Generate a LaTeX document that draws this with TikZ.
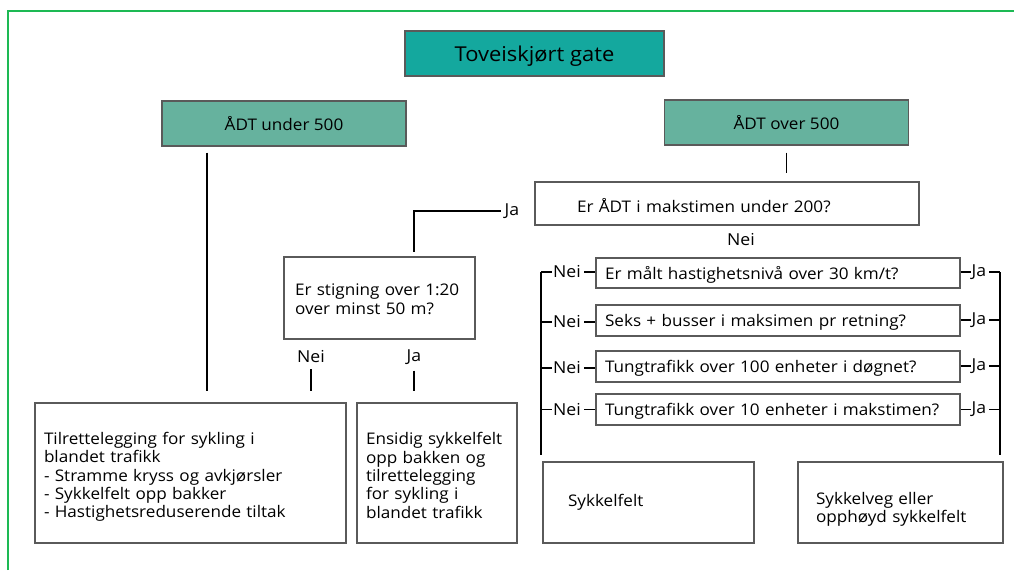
\documentclass[tikz,border=0pt]{standalone}
\usepackage{fontspec}
\setmainfont{Open Sans}[FakeStretch=1.07]
\definecolor{titleTeal}{HTML}{14A89E}
\definecolor{adtGreen}{HTML}{66B29E}
\definecolor{frameGreen}{HTML}{1DB954}
\definecolor{boxGray}{HTML}{5A5A5A}
\tikzset{
  titleBox/.style = {draw=boxGray, line width=1.2pt, fill=titleTeal, font=\fontsize{20.5}{24}\selectfont},
  adtBox/.style = {draw=boxGray, line width=1.2pt, fill=adtGreen, minimum width=244pt, minimum height=45pt, font=\fontsize{16}{19}\selectfont},
  textBox/.style = {draw=boxGray, line width=1.1pt, align=left, inner ysep=0pt, font=\fontsize{16}{18.3}\selectfont},
  lowered/.style = {execute at begin node={\rule{0pt}{#1}}},
  answer/.style = {inner sep=1pt, font=\fontsize{16.5}{19}\selectfont},
  link/.style = {line width=1.8pt},
  tick/.style = {line width=1.3pt},
  bar/.style = {line width=2.8pt}
}
\usetikzlibrary{calc, positioning}

\begin{document}
\begin{tikzpicture}[x=1pt, y=-1pt]
  \useasboundingbox (0,0) rectangle (1014,570);
  \draw[frameGreen, line width=2pt] (8,570) -- (8,11) -- (1014,11);

  \node[titleBox, minimum width=259pt, minimum height=45pt, text depth=0pt] (title) at (534.5,53.5) {Toveiskjørt gate};
  \node[adtBox] (under) at (284,123.5) {ÅDT under 500};
  \node[adtBox] (over) at (786.5,122.5) {ÅDT over 500};

  % left branch
  \node[textBox, lowered=20pt, text width=293pt, inner xsep=9pt, minimum height=140pt] (tilrett) at (190.5,473) {Tilrettelegging for sykling i\\blandet trafikk\\- Stramme kryss og avkjørsler\\- Sykkelfelt opp bakker\\- Hastighetsreduserende tiltak};
  \draw[link, shorten <=6pt, shorten >=11pt] ([xshift=-77pt]under.south) -- ([xshift=-77pt]under.south |- tilrett.north);

  \node[textBox, lowered=14pt, text width=169pt, inner xsep=11pt, minimum height=82pt] (stig) at (379.5,298) {Er stigning over 1:20\\over minst 50 m?};
  \node[textBox, lowered=17pt, text width=148pt, inner xsep=6pt, minimum height=140pt] (ensidig) at (437,473) {\hspace*{3pt}Ensidig sykkelfelt\\\hspace*{3pt}opp bakken og\\\hspace*{3pt}tilrettelegging\\\hspace*{3pt}for sykling i\\\hspace*{3pt}blandet trafikk};

  \node[answer] (neiStig) at (311,357) {Nei};
  \node[answer] (jaStig) at (414,357) {Ja};
  \draw[link, shorten <=5pt, shorten >=11pt] (neiStig.south) -- (neiStig.south |- tilrett.north);
  \draw[link, shorten <=5pt, shorten >=11pt] (jaStig.south) -- (jaStig.south |- ensidig.north);

  % right branch
  \node[textBox, lowered=18pt, text width=300pt, inner xsep=42pt, minimum height=43pt] (qADT) at (727,203.5) {Er ÅDT i makstimen under 200?};
  \draw[link, shorten <=7pt, shorten >=8pt] (over.south) -- (over.south |- qADT.north);

  \node[answer] (jaADT) at (512,211) {Ja};
  \draw[link, shorten <=3pt, shorten >=4pt] (jaADT.west) -| (jaStig |- stig.north);
  \node[answer] (neiADT) at (741,240) {Nei};

  \node[textBox, lowered=16pt, text width=350pt, inner xsep=7pt, minimum height=30pt] (qFart) at (778,273) {\hspace*{2pt}Er målt hastighetsnivå over 30 km/t?};
  \node[textBox, lowered=16pt, text width=350pt, inner xsep=7pt, minimum height=31pt] (qBuss) at (778,320.5) {\hspace*{2pt}Seks + busser i maksimen pr retning?};
  \node[textBox, lowered=16pt, text width=350pt, inner xsep=7pt, minimum height=31pt] (qDogn) at (778,366.5) {\hspace*{2pt}Tungtrafikk over 100 enheter i døgnet?};
  \node[textBox, lowered=16pt, text width=350pt, inner xsep=7pt, minimum height=31pt] (qMaks) at (778,409.5) {\hspace*{2pt}Tungtrafikk over 10 enheter i makstimen?};

  \node[answer] (neiFart) at (567,272) {Nei};
  \node[answer] (neiBuss) at (567,322) {Nei};
  \node[answer] (neiDogn) at (567,368) {Nei};
  \node[answer] (neiMaks) at (567,409.5) {Nei};
  \node[answer] (jaFart) at (979,272) {Ja};
  \node[answer] (jaBuss) at (979,320) {Ja};
  \node[answer] (jaDogn) at (979,366) {Ja};
  \node[answer] (jaMaks) at (979,409.5) {Ja};

  \coordinate (neiTop) at (541,272);
  \coordinate (neiBot) at (541,455);
  \coordinate (jaTop) at (1000,272);
  \coordinate (jaBot) at (1000,455);
  \draw[bar] (neiTop) -- (neiBot);
  \draw[bar] (jaTop) -- (jaBot);

  \draw[tick] (neiFart.west) -- (neiFart.west -| neiTop);
  \draw[tick] (neiBuss.west) -- (neiBuss.west -| neiTop);
  \draw[tick] (neiDogn.west) -- (neiDogn.west -| neiTop);
  \draw[tick] (neiMaks.west) -- (neiMaks.west -| neiTop);
  \draw[tick, shorten <=2pt] (neiFart.east) -- (neiFart.east -| qFart.west);
  \draw[tick, shorten <=2pt] (neiBuss.east) -- (neiBuss.east -| qBuss.west);
  \draw[tick, shorten <=2pt] (neiDogn.east) -- (neiDogn.east -| qDogn.west);
  \draw[tick, shorten <=2pt] (neiMaks.east) -- (neiMaks.east -| qMaks.west);
  \draw[tick] (jaFart.west -| qFart.east) -- (jaFart.west);
  \draw[tick] (jaBuss.west -| qBuss.east) -- (jaBuss.west);
  \draw[tick] (jaDogn.west -| qDogn.east) -- (jaDogn.west);
  \draw[tick] (jaMaks.west -| qMaks.east) -- (jaMaks.west);
  \draw[tick, shorten <=2pt] (jaFart.east) -- (jaFart.east -| jaTop);
  \draw[tick, shorten <=2pt] (jaBuss.east) -- (jaBuss.east -| jaTop);
  \draw[tick, shorten <=2pt] (jaDogn.east) -- (jaDogn.east -| jaTop);
  \draw[tick, shorten <=2pt] (jaMaks.east) -- (jaMaks.east -| jaTop);

  \node[textBox, text width=161pt, inner xsep=25pt, minimum height=81pt] (sykkelfelt) at (648.5,502.5) {Sykkelfelt};
  \node[textBox, lowered=26pt, text width=169pt, inner xsep=18pt, minimum height=81pt] (sykkelveg) at (900.5,502.5) {Sykkelveg eller\\opphøyd sykkelfelt};
\end{tikzpicture}
\end{document}
